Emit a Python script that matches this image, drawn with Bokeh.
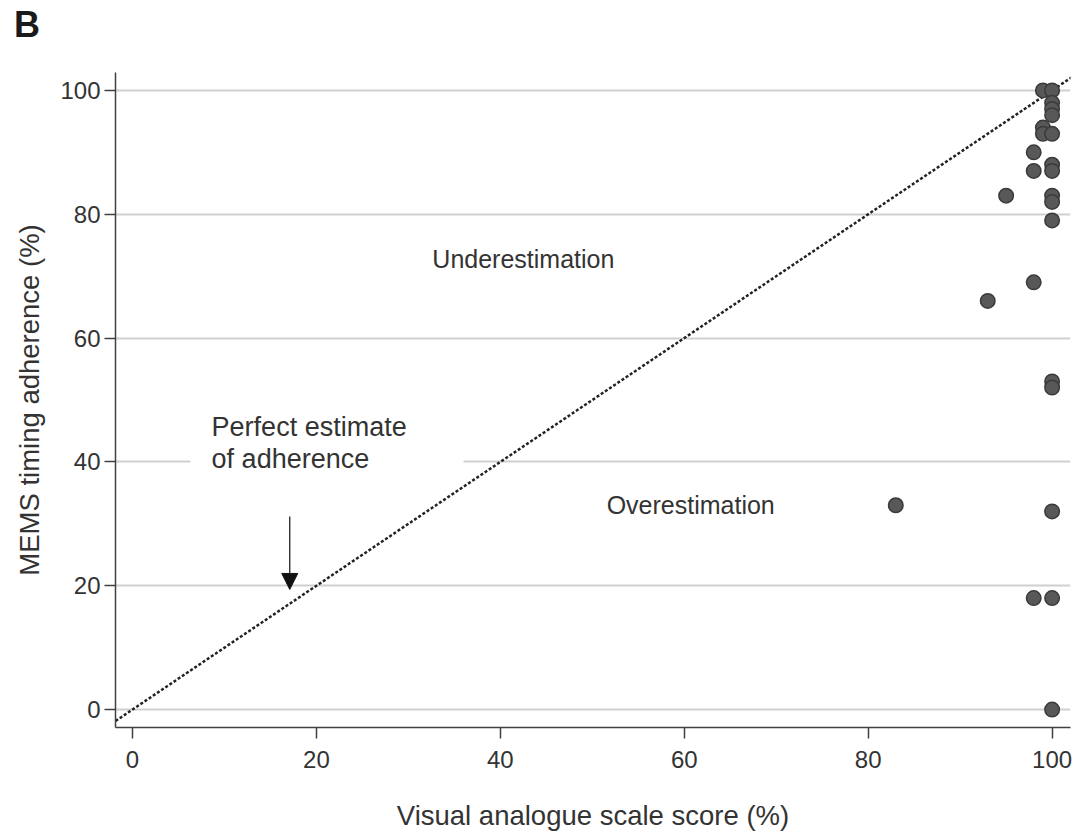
from bokeh.plotting import figure
from bokeh.models import Range1d, Label, Arrow, NormalHead, BoxAnnotation, FixedTicker, ColumnDataSource, Div
from bokeh.layouts import column
from bokeh.embed import file_html
from bokeh.resources import INLINE

# Data
vas_score = [99, 100, 100, 100, 100, 99, 99, 100, 98, 98, 100, 100, 95, 100, 100, 100,
             98, 93, 100, 100, 83, 100, 98, 100, 100]
mems_adherence = [100, 100, 98, 97, 96, 94, 93, 93, 90, 87, 88, 87, 83, 83, 82, 79,
                  69, 66, 53, 52, 33, 32, 18, 18, 0]
ticks = [0, 20, 40, 60, 80, 100]
identity = [-5, 110]

FONT = "Liberation Sans"

header = Div(text="B", width=60, height=36, margin=(7, 0, 0, 14),
             styles={"font-family": FONT, "font-size": "36px", "font-weight": "bold",
                     "color": "#1a1a1a", "line-height": "36px"})

p = figure(width=1072, height=790, output_backend="svg", toolbar_location=None,
           x_range=Range1d(-1.85, 102.0), y_range=Range1d(-2.9, 102.9),
           min_border_left=115, min_border_right=2, min_border_top=29, min_border_bottom=89)
p.outline_line_color = None
p.background_fill_color = "white"

# grid
p.xgrid.visible = False
p.ygrid.ticker = FixedTicker(ticks=ticks)
p.ygrid.grid_line_color = "#d0d0d0"
p.ygrid.grid_line_width = 2

for ax in (p.xaxis[0], p.yaxis[0]):
    ax.ticker = FixedTicker(ticks=ticks)
    ax.minor_tick_line_color = None
    ax.axis_line_color = "#404040"
    ax.axis_line_width = 1.5
    ax.major_tick_line_color = "#404040"
    ax.major_tick_line_width = 1.5
    ax.major_tick_out = 11
    ax.major_tick_in = 0
    ax.major_label_text_font = FONT
    ax.major_label_text_font_size = "24px"
    ax.major_label_text_color = "#333333"
    ax.axis_label_text_font = FONT
    ax.axis_label_text_font_size = "27.5px"
    ax.axis_label_text_font_style = "normal"
    ax.axis_label_text_color = "#333333"

p.xaxis.axis_label = "Visual analogue scale score (%)"
p.yaxis.axis_label = "MEMS timing adherence (%)"
p.xaxis.major_label_standoff = 12
p.xaxis.axis_label_standoff = 29
p.yaxis.major_label_standoff = 4
p.yaxis.axis_label_standoff = 12
p.yaxis.major_label_orientation = "horizontal"

# white box behind annotation text (interrupts the 40 gridline)
p.add_layout(BoxAnnotation(left=6.3, right=36.0, bottom=37.5, top=42.5,
                           fill_color="white", fill_alpha=1, line_color=None, level="underlay"))

# line of identity
p.line(identity, identity, line_color="#222222", line_width=2.5, line_dash="3 2")

# points
src = ColumnDataSource(dict(x=vas_score, y=mems_adherence))
p.scatter("x", "y", source=src, size=14.5, fill_color="#585858", line_color="#3a3a3a", line_width=1.5)

# annotations
for txt, x, y, size, align in [
    ("Perfect estimate", 8.6, 45.6, "27px", "left"),
    ("of adherence", 8.6, 40.4, "27px", "left"),
    ("Underestimation", 42.5, 72.8, "25px", "center"),
    ("Overestimation", 60.7, 33.0, "25px", "center"),
]:
    p.add_layout(Label(x=x, y=y, text=txt, text_font=FONT, text_font_size=size,
                       text_color="#333333", text_align=align, text_baseline="middle"))

p.add_layout(Arrow(end=NormalHead(size=16, fill_color="#111111", line_color="#111111"),
                   x_start=17.1, y_start=31.2, x_end=17.1, y_end=19.4,
                   line_color="#111111", line_width=1.2))

layout = column(header, p, spacing=0)
open("out.html", "w").write(file_html(layout, INLINE))
